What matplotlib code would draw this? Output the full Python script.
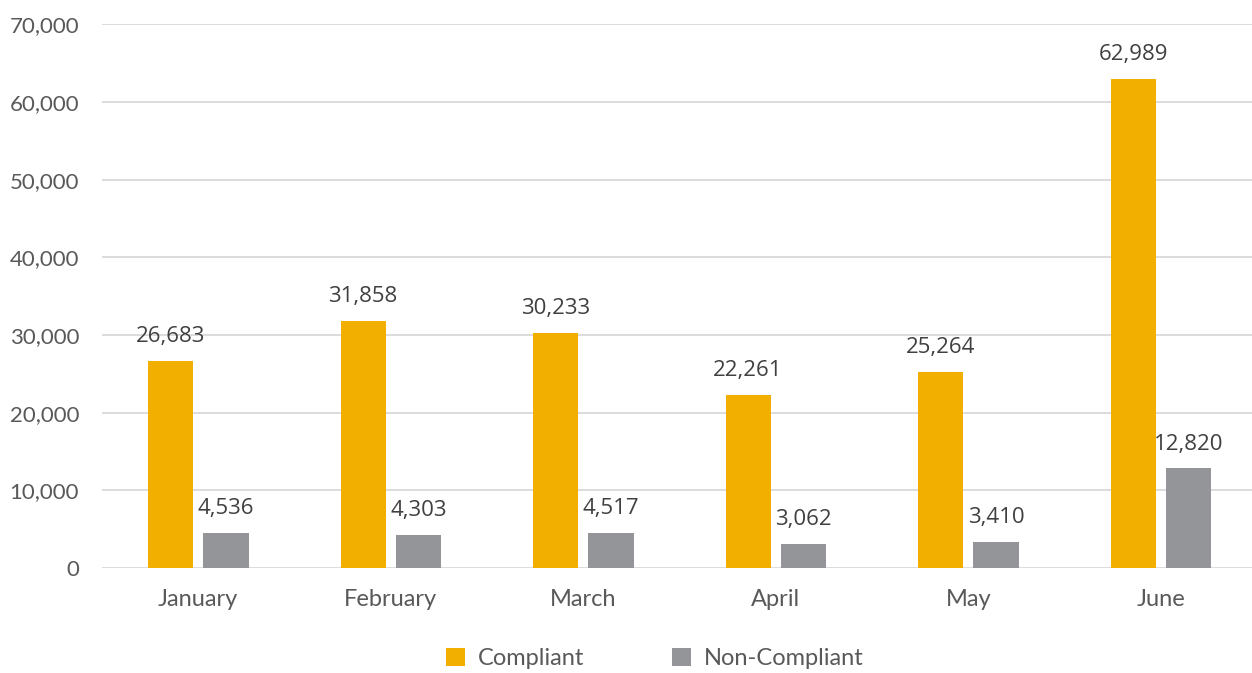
import numpy as np
import matplotlib.pyplot as plt
from matplotlib.ticker import FuncFormatter

# Data
months = ['January', 'February', 'March', 'April', 'May', 'June']
compliant = [26683, 31858, 30233, 22261, 25264, 62989]
non_compliant = [4536, 4303, 4517, 3062, 3410, 12820]

gold = '#F2AF00'
grey = '#939598'

fig = plt.figure(figsize=(12.52, 6.73), dpi=100)
ax = fig.add_axes([0.0815, 0.156, 0.9225, 0.808])

x = np.arange(len(months))
w = 0.234
off = 0.144
b1 = ax.bar(x - off, compliant, w, color=gold, label='Compliant', zorder=3)
b2 = ax.bar(x + off, non_compliant, w, color=grey, label='Non-Compliant', zorder=3)

# Data labels
for bars, vals in [(b1, compliant), (b2, non_compliant)]:
    for rect, v in zip(bars, vals):
        ax.annotate(f'{v:,}', (rect.get_x() + rect.get_width() / 2, v),
                    xytext=(0, 10), textcoords='offset points',
                    ha='center', va='bottom', fontsize=16,
                    family='Open Sans', color='#404040')

ax.set_xlim(-0.5, len(months) - 0.5)
ax.set_ylim(0, 70000)
ax.set_yticks(range(0, 70001, 10000))
ax.yaxis.set_major_formatter(FuncFormatter(lambda v, p: f'{int(v):,}'))
ax.set_xticks(x)
ax.set_xticklabels(months)
ax.tick_params(length=0, labelcolor='#595959')
ax.tick_params(axis='y', pad=16.5, labelsize=16)
ax.tick_params(axis='x', pad=15, labelsize=17)
for lab in ax.get_xticklabels() + ax.get_yticklabels():
    lab.set_family('Lato')

ax.grid(axis='y', color='#D9D9D9', linewidth=1.3, zorder=0)
for s in ax.spines.values():
    s.set_visible(False)

fig.legend(handles=[b1, b2], loc='center', bbox_to_anchor=(0.523, 0.021),
           ncol=2, frameon=False, handlelength=0.8, handleheight=0.8,
           columnspacing=3.7, handletextpad=0.55,
           prop={'family': 'Lato', 'size': 17},
           labelcolor='#595959')

fig.savefig('out.png', dpi=100)
